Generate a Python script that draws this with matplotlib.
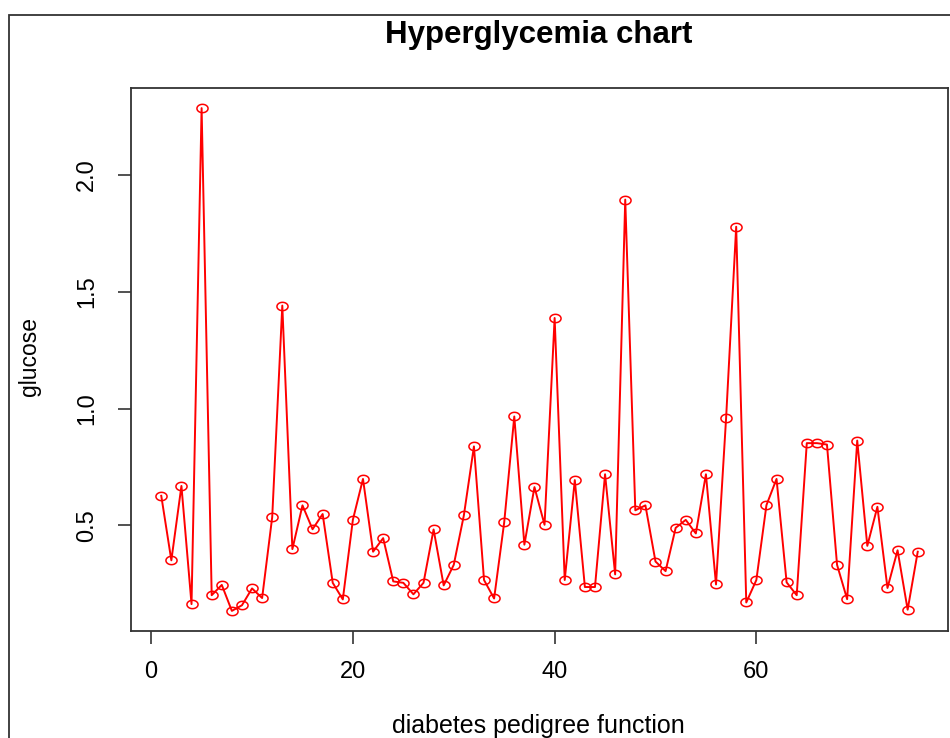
import numpy as np
import matplotlib
matplotlib.use("Agg")
import matplotlib.pyplot as plt
from matplotlib.path import Path
from matplotlib.patches import Rectangle

# values (index 1..76)
pedigree = [
    0.627, 0.351, 0.669, 0.164, 2.284, 0.202, 0.246, 0.135, 0.159, 0.231,
    0.190, 0.536, 1.440, 0.399, 0.586, 0.484, 0.549, 0.255, 0.184, 0.525,
    0.699, 0.388, 0.446, 0.261, 0.255, 0.206, 0.255, 0.483, 0.244, 0.332,
    0.543, 0.838, 0.267, 0.188, 0.513, 0.966, 0.418, 0.664, 0.503, 1.387,
    0.267, 0.694, 0.237, 0.237, 0.719, 0.291, 1.893, 0.565, 0.586, 0.346,
    0.305, 0.490, 0.524, 0.466, 0.719, 0.248, 0.959, 1.777, 0.171, 0.267,
    0.587, 0.699, 0.257, 0.202, 0.852, 0.852, 0.846, 0.332, 0.185, 0.863,
    0.413, 0.580, 0.233, 0.394, 0.140, 0.388,
]
idx = np.arange(1, len(pedigree) + 1)
x_ticks = [0, 20, 40, 60]
y_ticks = [0.5, 1.0, 1.5, 2.0]

plt.rcParams['font.family'] = ['Liberation Sans', 'DejaVu Sans']

fig = plt.figure(figsize=(9.5, 7.38), dpi=100)
W, H = 950, 738
ax = fig.add_axes([131 / W, 1 - 631 / H, (948 - 131) / W, (631 - 88) / H])

# R-like open circle, a bit squashed as in the screenshot
t = np.linspace(0, 2 * np.pi, 60)
ell = Path(np.column_stack([np.cos(t), 0.75 * np.sin(t)]), closed=True)

ax.plot(idx, pedigree, color='red', lw=1.4, marker=ell, markersize=8,
        markerfacecolor='none', markeredgecolor='red', markeredgewidth=1.1)

# R pads the data range by 4%
def pad(lo, hi):
    d = (hi - lo) * 0.04
    return lo - d, hi + d

ax.set_xlim(*pad(idx.min(), idx.max()))
ax.set_ylim(*pad(min(pedigree), max(pedigree)))
ax.set_xticks(x_ticks)
ax.set_yticks(y_ticks)
ax.set_xticklabels([str(v) for v in x_ticks], fontsize=17)
ax.set_yticklabels([f"{v:.1f}" for v in y_ticks], fontsize=17,
                   rotation=90, va='center')
ax.tick_params(axis='both', direction='out', length=9.5, width=1.2,
               color='#333333')
ax.tick_params(axis='x', pad=12)
ax.tick_params(axis='y', pad=14)
for s in ax.spines.values():
    s.set_color('#333333')
    s.set_linewidth(1.3)

fig.text(539 / W, 1 - 35 / H, "Hyperglycemia chart", ha='center',
         va='center', fontsize=22.5, fontweight='bold')
fig.text(538 / W, 1 - 726 / H, "diabetes pedigree function", ha='center',
         va='center', fontsize=18)
fig.text(30 / W, 1 - 357 / H, "glucose", ha='center', va='center',
         rotation=90, fontsize=16.5)

# outer frame of the R device window, cut off at right and bottom
fig.patches.append(Rectangle((9 / W, -0.1), 1.2, 1 - 15 / H + 0.1,
                             transform=fig.transFigure, fill=False,
                             edgecolor='#333333', lw=1.3))

fig.savefig("out.png", dpi=100)
